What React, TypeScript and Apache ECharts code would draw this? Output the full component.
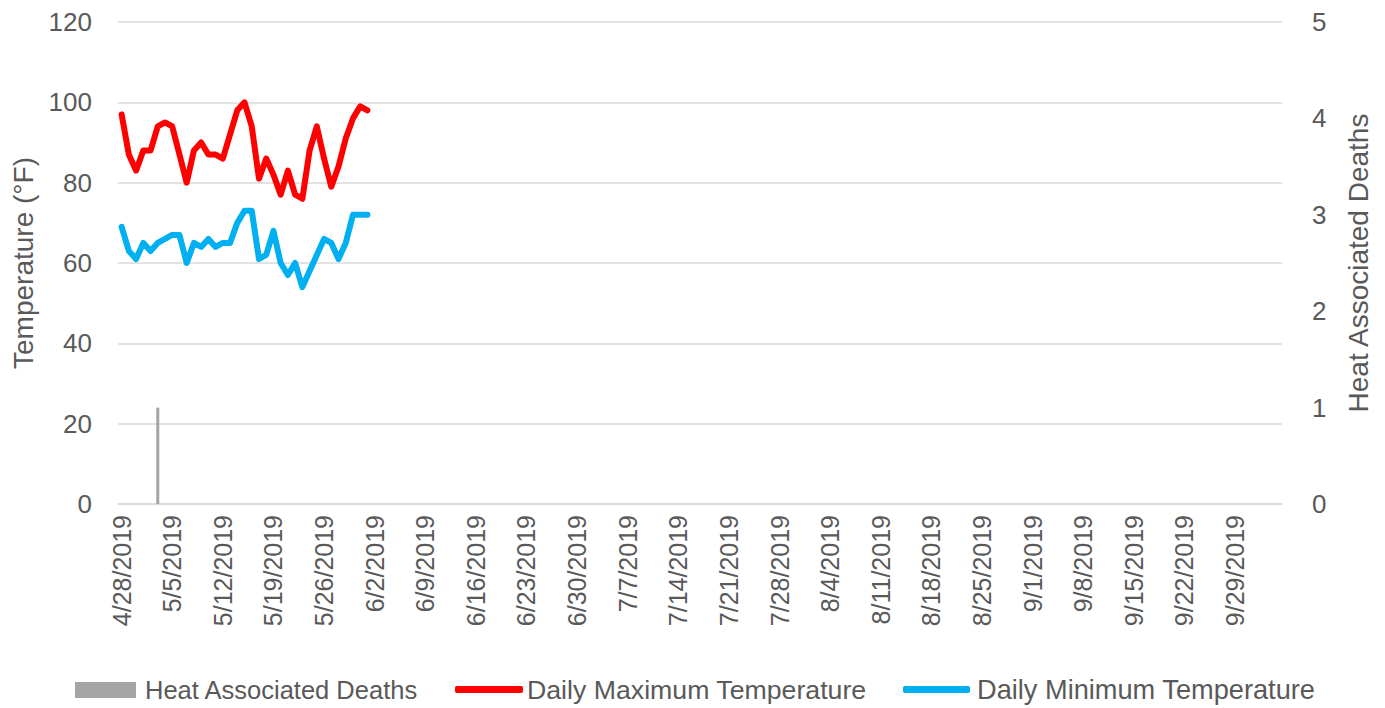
import React, { useEffect, useRef } from "react";
import * as echarts from "echarts";

// Category axis: daily dates from 4/28/2019 through 10/5/2019
const START_DATE = "2019-04-28";
const DAY_COUNT = 161;
const categories: string[] = (() => {
  const out: string[] = [];
  const d = new Date(START_DATE + "T12:00:00");
  for (let i = 0; i < DAY_COUNT; i++) {
    out.push(`${d.getMonth() + 1}/${d.getDate()}/${d.getFullYear()}`);
    d.setDate(d.getDate() + 1);
  }
  return out;
})();

// Daily maximum temperature (°F), 4/28/2019 – 6/1/2019
const maxTemps = [
  97, 87, 83, 88, 88, 94, 95, 94, 87, 80, 88, 90, 87, 87, 86, 92, 98, 100,
  94, 81, 86, 82, 77, 83, 77, 76, 88, 94, 86, 79, 84, 91, 96, 99, 98,
];
// Daily minimum temperature (°F), 4/28/2019 – 6/1/2019
const minTemps = [
  69, 63, 61, 65, 63, 65, 66, 67, 67, 60, 65, 64, 66, 64, 65, 65, 70, 73,
  73, 61, 62, 68, 60, 57, 60, 54, 58, 62, 66, 65, 61, 65, 72, 72, 72,
];
// Heat associated deaths
const deathDates = ["5/3/2019"];
const deathCounts = [1];

const leftTicks = { min: 0, max: 120, interval: 20 };
const rightTicks = { min: 0, max: 5, interval: 1 };

const FONT = "Liberation Sans";
const TXT = "#595959";
const GRID = "#d9d9d9";

export default function App() {
  const ref = useRef<HTMLDivElement>(null);
  useEffect(() => {
    document.body.style.margin = "0";
    if (!ref.current) return;
    const chart = echarts.init(ref.current, undefined, { renderer: "svg" });
    const pad = (arr: number[]) =>
      categories.map((_, i) => (i < arr.length ? arr[i] : null));
    const deaths = categories.map((c) => {
      const k = deathDates.indexOf(c);
      return k >= 0 ? deathCounts[k] : null;
    });
    const legendText = { fontFamily: FONT, color: TXT };
    chart.setOption({
      animation: false,
      textStyle: { fontFamily: FONT },
      grid: { left: 118, right: 103, top: 22, bottom: 204 },
      legend: [
        {
          data: [{ name: "Heat Associated Deaths", icon: "rect" }],
          left: 75,
          top: 677,
          padding: 0,
          itemWidth: 61,
          itemHeight: 16,
          textStyle: { ...legendText, fontSize: 25.5, padding: [0, 0, 0, 4] },
        },
        {
          data: [
            {
              name: "Daily Maximum Temperature",
              icon: "roundRect",
              itemStyle: { color: "#ff0000" },
            },
          ],
          left: 455,
          top: 676,
          padding: 0,
          itemWidth: 68,
          itemHeight: 7,
          textStyle: { ...legendText, fontSize: 26.7, padding: [0, 0, 0, -1] },
        },
        {
          data: [
            {
              name: "Daily Minimum Temperature",
              icon: "roundRect",
              itemStyle: { color: "#00b0f0" },
            },
          ],
          left: 903,
          top: 676,
          padding: 0,
          itemWidth: 67,
          itemHeight: 7,
          textStyle: { ...legendText, fontSize: 27.2, padding: [0, 0, 0, 2] },
        },
      ],
      xAxis: {
        type: "category",
        data: categories,
        boundaryGap: true,
        axisTick: { show: false },
        axisLine: { lineStyle: { color: GRID, width: 1.5 } },
        axisLabel: {
          rotate: 90,
          interval: 6,
          margin: 11,
          fontSize: 25,
          color: TXT,
          fontFamily: FONT,
        },
      },
      yAxis: [
        {
          type: "value",
          ...leftTicks,
          name: "Temperature (°F)",
          nameLocation: "middle",
          nameGap: 80,
          nameTextStyle: { fontSize: 28, color: TXT, fontFamily: FONT },
          axisLine: { show: false },
          axisTick: { show: false },
          axisLabel: { fontSize: 26, color: TXT, margin: 26, fontFamily: FONT },
          splitLine: { lineStyle: { color: GRID, width: 1.5 } },
        },
        {
          type: "value",
          ...rightTicks,
          name: "Heat Associated Deaths",
          nameLocation: "middle",
          nameGap: 62,
          nameTextStyle: { fontSize: 28, color: TXT, fontFamily: FONT },
          axisLine: { show: false },
          axisTick: { show: false },
          axisLabel: { fontSize: 26, color: TXT, margin: 30, fontFamily: FONT },
          splitLine: { show: false },
        },
      ],
      series: [
        {
          name: "Heat Associated Deaths",
          type: "bar",
          yAxisIndex: 1,
          data: deaths,
          barWidth: 3,
          itemStyle: { color: "#a5a5a5" },
        },
        {
          name: "Daily Maximum Temperature",
          type: "line",
          yAxisIndex: 0,
          data: pad(maxTemps),
          symbol: "none",
          lineStyle: { color: "#ff0000", width: 6, join: "round", cap: "round" },
          itemStyle: { color: "#ff0000" },
        },
        {
          name: "Daily Minimum Temperature",
          type: "line",
          yAxisIndex: 0,
          data: pad(minTemps),
          symbol: "none",
          lineStyle: { color: "#00b0f0", width: 6, join: "round", cap: "round" },
          itemStyle: { color: "#00b0f0" },
        },
      ],
    });
    return () => chart.dispose();
  }, []);
  return <div ref={ref} style={{ width: 1385, height: 708 }} />;
}
